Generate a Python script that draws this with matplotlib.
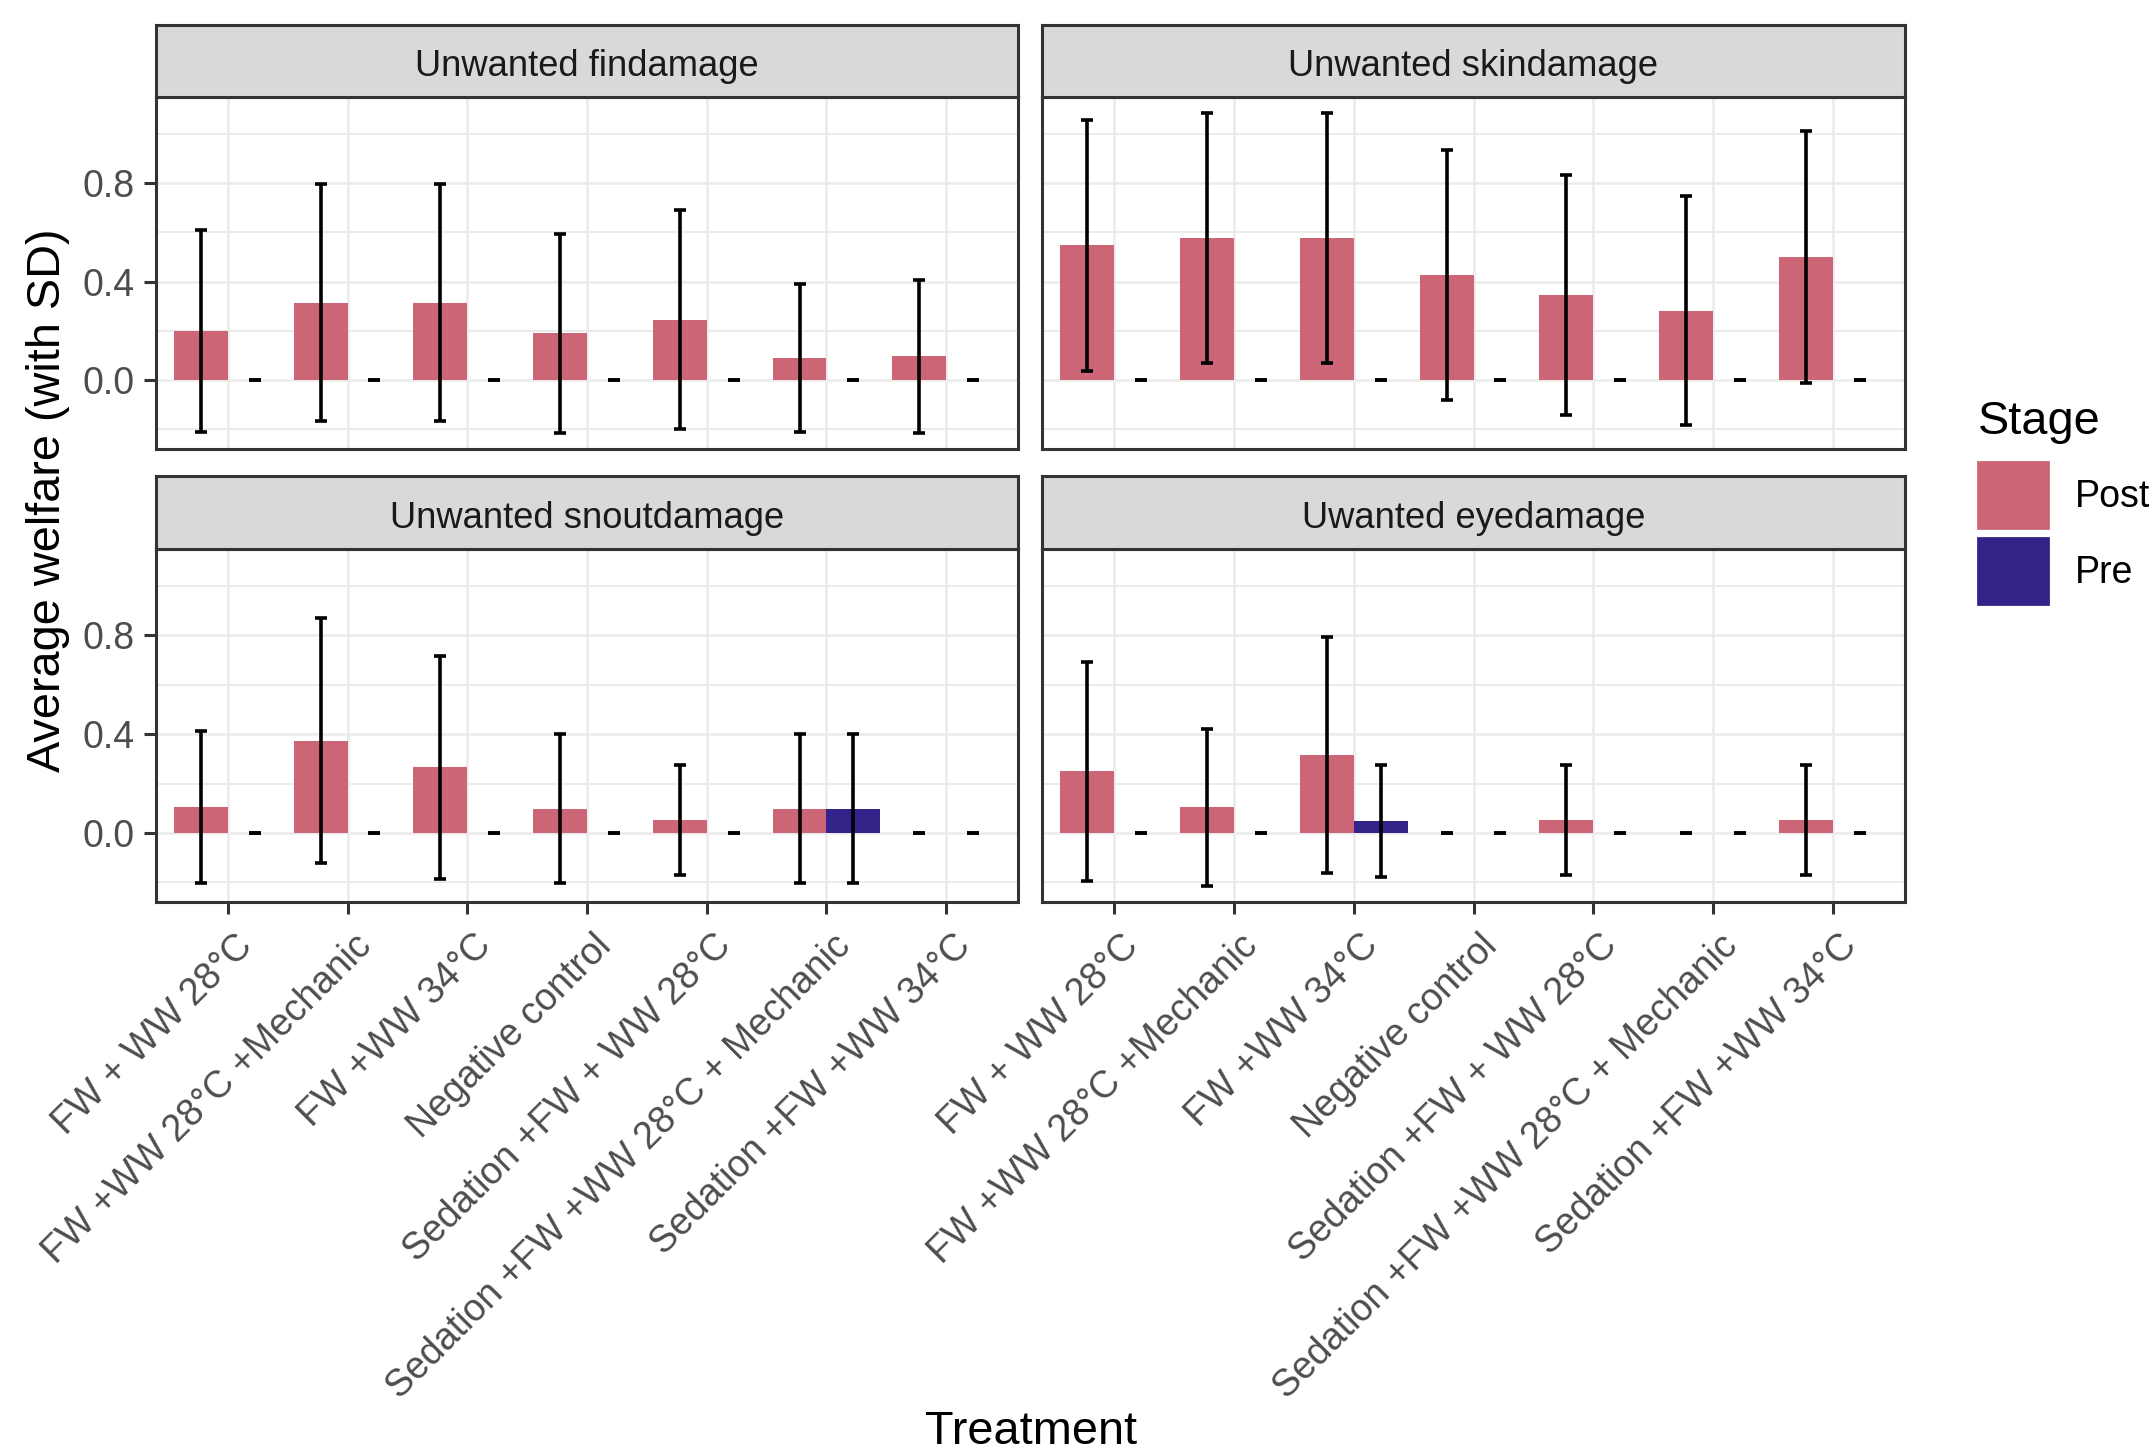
import numpy as np
import matplotlib.pyplot as plt
from matplotlib.patches import Patch
from matplotlib.transforms import ScaledTranslation

plt.rcParams['font.family'] = ['Liberation Sans', 'DejaVu Sans']

#%% Data
treatments = ["FW + WW 28°C", "FW +WW 28°C +Mechanic", "FW +WW 34°C",
              "Negative control", "Sedation +FW + WW 28°C",
              "Sedation +FW +WW 28°C + Mechanic", "Sedation +FW +WW 34°C"]
panels = ["Unwanted findamage", "Unwanted skindamage",
          "Unwanted snoutdamage", "Uwanted eyedamage"]
stages = ["Post", "Pre"]

fin_post    = [0.200, 0.315, 0.315, 0.190, 0.245, 0.090, 0.097]
fin_post_sd = [0.410, 0.480, 0.480, 0.405, 0.445, 0.300, 0.310]
fin_pre     = [0, 0, 0, 0, 0, 0, 0]
fin_pre_sd  = [0, 0, 0, 0, 0, 0, 0]

skin_post    = [0.548, 0.578, 0.578, 0.427, 0.347, 0.282, 0.500]
skin_post_sd = [0.510, 0.507, 0.507, 0.507, 0.488, 0.465, 0.513]
skin_pre     = [0, 0, 0, 0, 0, 0, 0]
skin_pre_sd  = [0, 0, 0, 0, 0, 0, 0]

snout_post    = [0.103, 0.374, 0.265, 0.098, 0.053, 0.098, 0]
snout_post_sd = [0.308, 0.497, 0.450, 0.303, 0.224, 0.303, 0]
snout_pre     = [0, 0, 0, 0, 0, 0.098, 0]
snout_pre_sd  = [0, 0, 0, 0, 0, 0.303, 0]

eye_post    = [0.250, 0.103, 0.315, 0, 0.053, 0, 0.053]
eye_post_sd = [0.443, 0.317, 0.478, 0, 0.224, 0, 0.224]
eye_pre     = [0, 0, 0.050, 0, 0, 0, 0]
eye_pre_sd  = [0, 0, 0.227, 0, 0, 0, 0]

post_vals = [fin_post, skin_post, snout_post, eye_post]
post_sds  = [fin_post_sd, skin_post_sd, snout_post_sd, eye_post_sd]
pre_vals  = [fin_pre, skin_pre, snout_pre, eye_pre]
pre_sds   = [fin_pre_sd, skin_pre_sd, snout_pre_sd, eye_pre_sd]

#%% Style
POST = "#CC6677"
PRE = "#332288"
DARK = "#333333"
GRID = "#EBEBEB"
TXT = 13.5
STRIP = 13.1
TITLE = 16.9

W, H = 2152, 1450
DPI = 200

def box(x0, y0, x1, y1):
    # pixel box (top-left origin) -> figure fraction
    return [x0 / W, 1 - y1 / H, (x1 - x0) / W, (y1 - y0) / H]

# shared y limits like ggplot fixed scales (+5% expansion)
lows = [np.array(m) - np.array(s) for m, s in zip(post_vals + pre_vals, post_sds + pre_sds)]
highs = [np.array(m) + np.array(s) for m, s in zip(post_vals + pre_vals, post_sds + pre_sds)]
lo = min(a.min() for a in lows)
hi = max(a.max() for a in highs)
pad = 0.05 * (hi - lo)

fig = plt.figure(figsize=(W / DPI, H / DPI), dpi=DPI)

cols = [(156, 1018), (1042, 1905)]
rows = [(25, 97, 449), (476, 549, 902)]   # strip top, panel top, panel bottom

x = np.arange(1, len(treatments) + 1)
bw = 0.45
err_kw = dict(fmt='none', ecolor='black', elinewidth=1.3, capsize=2.3,
              capthick=1.3, zorder=3)

for i, name in enumerate(panels):
    r, c = divmod(i, 2)
    x0, x1 = cols[c]
    st, pt, pb = rows[r]

    ax = fig.add_axes(box(x0, pt, x1, pb))
    ax.set_xlim(0.4, 7.6)
    ax.set_ylim(lo - pad, hi + pad)
    ax.set_xticks(x)
    ax.set_yticks([0.0, 0.4, 0.8])
    ax.set_yticks([-0.2, 0.2, 0.6, 1.0], minor=True)
    ax.set_yticklabels(["0.0", "0.4", "0.8"])
    ax.set_axisbelow(True)
    ax.xaxis.grid(True, which='major', color=GRID, lw=0.9)
    ax.yaxis.grid(True, which='major', color=GRID, lw=0.9)
    ax.yaxis.grid(True, which='minor', color=GRID, lw=0.7)
    for sp in ax.spines.values():
        sp.set_color(DARK)
        sp.set_linewidth(1.1)
    ax.tick_params(which='major', length=4.3, width=1.1, color=DARK,
                   labelcolor="#4D4D4D", labelsize=TXT, pad=3.5)
    ax.tick_params(which='minor', length=0)

    ax.bar(x - bw / 2, post_vals[i], width=bw, color=POST, zorder=2)
    ax.bar(x + bw / 2, pre_vals[i], width=bw, color=PRE, zorder=2)
    ax.errorbar(x - bw / 2, post_vals[i], yerr=post_sds[i], **err_kw)
    ax.errorbar(x + bw / 2, pre_vals[i], yerr=pre_sds[i], **err_kw)

    if r == 0:
        ax.tick_params(axis='x', bottom=False, labelbottom=False)
    else:
        ax.set_xticklabels(treatments, rotation=45, ha='right', va='top',
                           rotation_mode='anchor')
        off = ScaledTranslation(6 / DPI, -4 / DPI, fig.dpi_scale_trans)
        for lab in ax.get_xticklabels():
            lab.set_transform(lab.get_transform() + off)
    if c == 1:
        ax.tick_params(axis='y', left=False, labelleft=False)

    # facet strip
    sax = fig.add_axes(box(x0, st, x1, pt))
    sax.set_facecolor("#D9D9D9")
    sax.set_xticks([])
    sax.set_yticks([])
    for sp in sax.spines.values():
        sp.set_color(DARK)
        sp.set_linewidth(1.1)
    sax.text(0.5, 21 / 72, name, ha='center', va='baseline',
             transform=sax.transAxes, fontsize=STRIP, color="#1A1A1A")

fig.text(48 / W, 1 - 500 / H, "Average welfare (with SD)", rotation=90,
         ha='center', va='center', fontsize=TITLE)
fig.text(1031 / W, 1 - 1444 / H, "Treatment", ha='center', va='baseline',
         fontsize=TITLE)

# legend
fig.text(1978 / W, 1 - 434 / H, "Stage", ha='left', va='baseline', fontsize=TITLE)
handles = [Patch(color=POST, label=stages[0]), Patch(color=PRE, label=stages[1])]
fig.legend(handles=handles, loc='upper left',
           bbox_to_anchor=(1978 / W, 1 - 462 / H), frameon=False,
           fontsize=TXT, handlelength=1.87, handleheight=2.33,
           handletextpad=0.72, labelspacing=0.27,
           borderpad=0, borderaxespad=0)

fig.savefig("out.png", dpi=DPI, facecolor='white')
